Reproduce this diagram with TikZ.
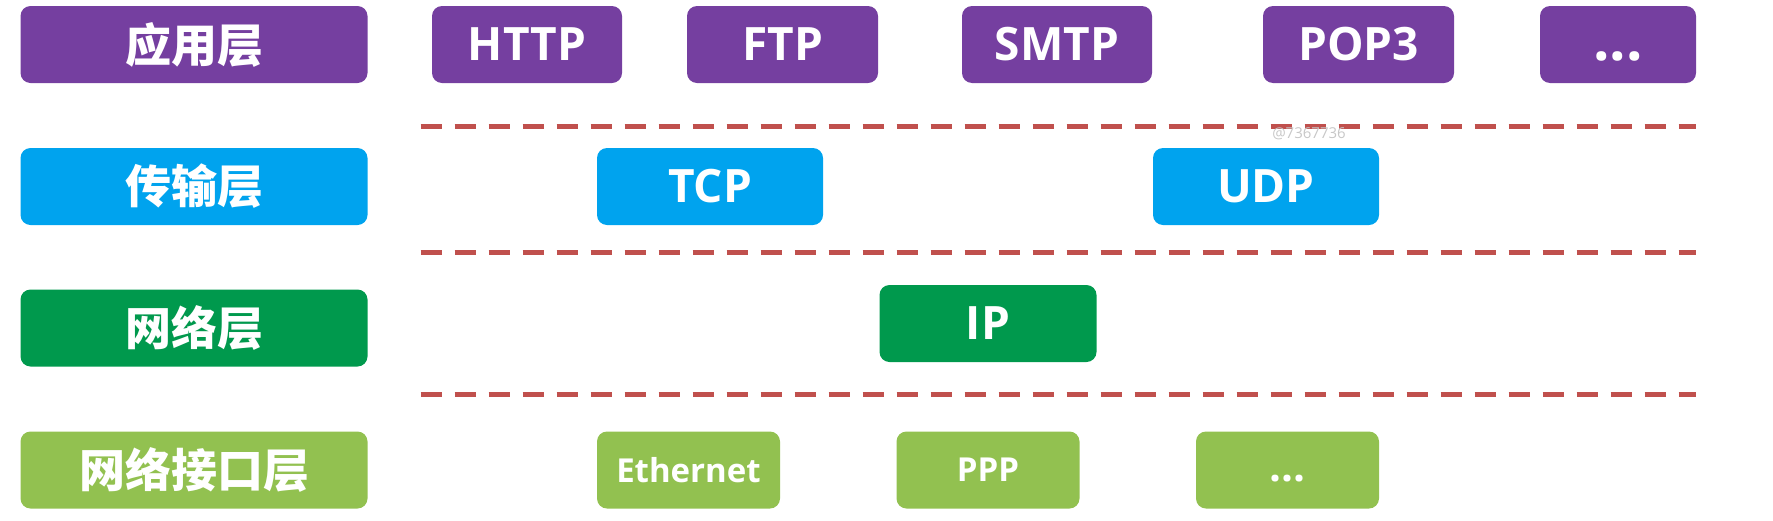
\documentclass[tikz,border=0pt]{standalone}
\usepackage{fontspec}
\setmainfont{Open Sans}
\newfontfamily\cjk{Noto Sans CJK SC}
\definecolor{purp}{RGB}{117,63,160}
\definecolor{blu}{RGB}{0,163,238}
\definecolor{dgreen}{RGB}{0,153,77}
\definecolor{lgreen}{RGB}{146,193,80}
\definecolor{dashred}{RGB}{192,80,77}
\tikzset{
  box/.style={rounded corners=10pt, inner sep=0pt, minimum height=77pt, text=white, font=\fontsize{46}{50}\selectfont\bfseries},
  layer/.style={box, minimum width=347pt, font=\fontsize{46}{50}\selectfont\cjk\bfseries},
  small/.style={font=\fontsize{33}{36}\selectfont\bfseries},
  sep/.style={draw=dashred, line width=5pt, dash pattern=on 21pt off 13pt},
}
\begin{document}
\begin{tikzpicture}[x=1pt,y=-1pt]
\useasboundingbox (0,0) rectangle (1773,520);
% row 1
\node[layer, fill=purp] (app) at (194,44.5) {应用层};
\node[box, fill=purp, minimum width=190pt] (http) at (527,44.5) {HTTP};
\node[box, fill=purp, minimum width=191pt] (ftp) at (782.5,44.5) {FTP};
\node[box, fill=purp, minimum width=190pt] (smtp) at (1057,44.5) {SMTP};
\node[box, fill=purp, minimum width=191pt] (pop) at (1358.5,44.5) {POP3};
\node[box, fill=purp, minimum width=156pt] (appdots) at (1618,44.5) {\vphantom{H}{\fontsize{58}{60}\selectfont...}};
% row 2
\node[layer, fill=blu] (trans) at (194,186.5) {传输层};
\node[box, fill=blu, minimum width=226pt] (tcp) at (710,186.5) {TCP};
\node[box, fill=blu, minimum width=226pt] (udp) at (1266,186.5) {UDP};
% row 3
\node[layer, fill=dgreen] (net) at (194,328) {网络层};
\node[box, fill=dgreen, minimum width=217pt] (ip) at (988,323.5) {IP};
% row 4
\node[layer, fill=lgreen] (link) at (194,470) {网络接口层};
\node[box, small, fill=lgreen, minimum width=183pt] (eth) at (688.5,470) {Ethernet};
\node[box, small, fill=lgreen, minimum width=183pt] (ppp) at (988,470) {PPP};
\node[box, small, fill=lgreen, minimum width=183pt] (linkdots) at (1287.5,470) {\vphantom{P}{\fontsize{42}{44}\selectfont...}};
% separators
\coordinate (s1a) at (420.5,126); \coordinate (s1b) at (1696,126);
\coordinate (s2a) at (420.5,252); \coordinate (s2b) at (1696,252);
\coordinate (s3a) at (420.5,394); \coordinate (s3b) at (1696,394);
\draw[sep] (s1a) -- (s1b);
\draw[sep] (s2a) -- (s2b);
\draw[sep] (s3a) -- (s3b);
% watermark
\node[text=black!22, font=\fontsize{15}{16}\selectfont, inner sep=0pt] (wm) at (1309,134) {@7367736};
\end{tikzpicture}
\end{document}
